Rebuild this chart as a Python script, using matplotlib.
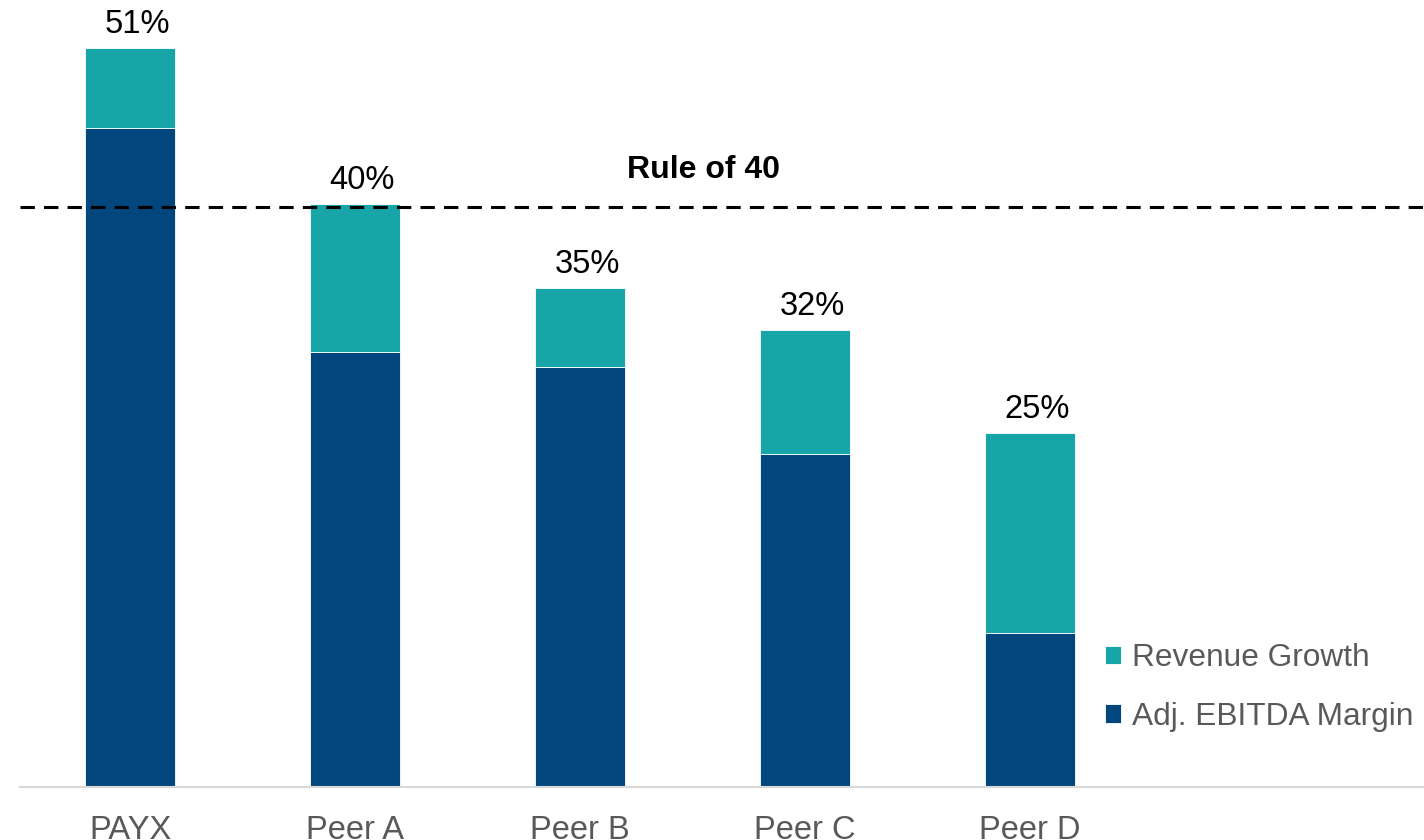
import numpy as np
import matplotlib.pyplot as plt

plt.rcParams['font.family'] = ['Liberation Sans', 'DejaVu Sans']

# Chart data
companies = ['PAYX', 'Peer A', 'Peer B', 'Peer C', 'Peer D']
ebitda_margin = [45.5, 30.0, 29.0, 23.0, 10.6]
revenue_growth = [5.5, 10.2, 5.4, 8.5, 13.8]
total_labels = ['51%', '40%', '35%', '32%', '25%']
rule_of_40 = 40

navy = '#02467E'
teal = '#18A5A7'

fig = plt.figure(figsize=(14.24, 8.4), dpi=100)
ax = fig.add_axes([20 / 1424, 53 / 840, 1 - 20 / 1424, 787 / 840])

x = np.arange(len(companies))
totals = np.array(ebitda_margin) + np.array(revenue_growth)
b1 = ax.bar(x, ebitda_margin, width=0.4, color=navy, edgecolor='white',
            linewidth=0.6, label='Adj. EBITDA Margin')
b2 = ax.bar(x, revenue_growth, width=0.4, bottom=ebitda_margin, color=teal,
            edgecolor='white', linewidth=0.6, label='Revenue Growth')

# Total labels above each bar
for xi, t, lab in zip(x, totals, total_labels):
    ax.text(xi + 0.03, t + 0.55, lab, ha='center', va='bottom', fontsize=23.5,
            color='black')

# Rule of 40 reference line
ax.axhline(rule_of_40, color='black', linewidth=2.2, dashes=(4.7, 3))
ax.text(2.55, rule_of_40 + 1.55, 'Rule of 40', ha='center', va='bottom',
        fontsize=23, fontweight='bold', color='black')

ax.set_xlim(-0.49, 5.75)
ax.set_ylim(0, 54.3)
ax.set_xticks(x)
ax.set_xticklabels(companies, fontsize=23.5, color='#595959')
ax.tick_params(axis='x', length=0, pad=20)
ax.set_yticks([])
for side in ['top', 'right', 'left']:
    ax.spines[side].set_visible(False)
ax.spines['bottom'].set_color('#D9D9D9')
ax.spines['bottom'].set_linewidth(1.5)

leg = ax.legend(handles=[b2, b1], loc='upper left',
                bbox_to_anchor=(1105 / 1424, (840 - 643) / 840),
                bbox_transform=fig.transFigure, frameon=False, fontsize=22.8,
                handlelength=0.52, handleheight=0.52, handletextpad=0.32,
                labelspacing=0.9, borderpad=0, borderaxespad=0)
for t in leg.get_texts():
    t.set_color('#595959')

fig.savefig('out.png', dpi=100)
